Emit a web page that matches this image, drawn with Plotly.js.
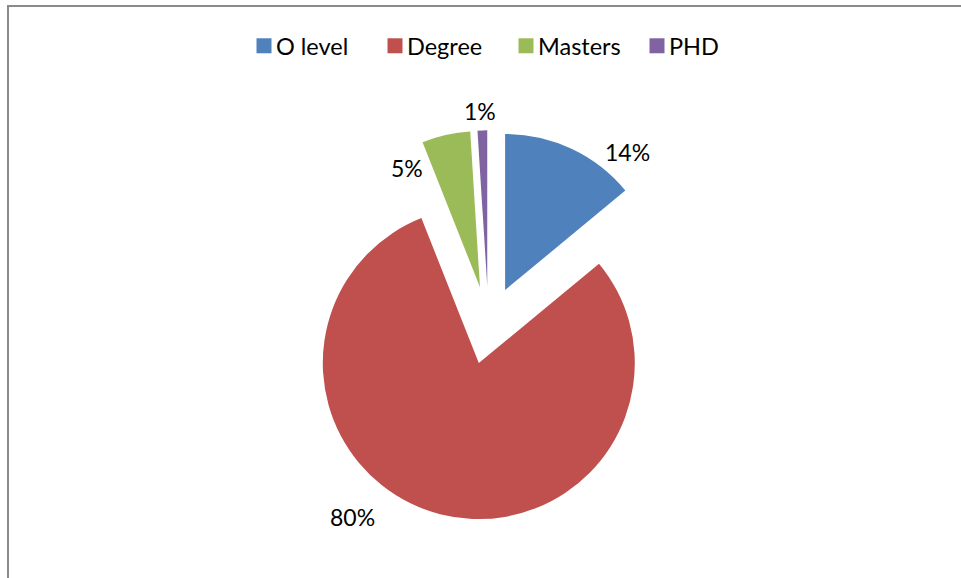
<!DOCTYPE html>
<html>
<head>
<meta charset="utf-8">
<script src="https://cdn.plot.ly/plotly-3.0.1.min.js"></script>
<style>
  html, body { margin: 0; padding: 0; background: #ffffff; }
  #chart { width: 961px; height: 578px; }
</style>
</head>
<body>
<div id="chart"></div>
<script>
// ---- data ----
const categories = ["O level", "Degree", "Masters", "PHD"];
const values = [14, 80, 5, 1];
const colors = ["#4F81BD", "#C0504D", "#9BBB59", "#8064A2"];

// ---- label placement style (angle nudge in degrees, distance from pie centre in px) ----
const labelAngleNudge = [13.6, 21.1, -14.8, -0.5];
const labelDistance = [222, 235, 177, 214];

const W = 961, H = 578;
const cx = 488.5, cy = 325.3, half = 195;
const FONT = "Lato, 'Liberation Sans', sans-serif";

const total = values.reduce((a, b) => a + b, 0);

const trace = {
  type: "pie",
  labels: categories,
  values: values,
  sort: false,
  direction: "clockwise",
  rotation: 0,
  pull: values.map(() => 0.25),
  marker: { colors: colors, line: { width: 0 } },
  textinfo: "none",
  hoverinfo: "label+percent",
  domain: {
    x: [(cx - half) / W, (cx + half) / W],
    y: [1 - (cy + half) / H, 1 - (cy - half) / H]
  },
  automargin: false
};

// percentage labels computed from the data (slice bisector + nudge)
const annotations = [];
let cum = 0;
values.forEach((v, i) => {
  const mid = (cum + v / 2) / total * 360;
  cum += v;
  const a = (mid + labelAngleNudge[i]) * Math.PI / 180;
  const px = cx + labelDistance[i] * Math.sin(a);
  const py = cy - labelDistance[i] * Math.cos(a);
  annotations.push({
    xref: "paper", yref: "paper",
    x: px / W, y: 1 - py / H,
    xanchor: "center", yanchor: "middle",
    text: Math.round(v / total * 100) + "%",
    showarrow: false,
    font: { family: FONT, size: 23, color: "#000000" }
  });
});

const layout = {
  width: W,
  height: H,
  margin: { l: 0, r: 0, t: 0, b: 0, pad: 0 },
  paper_bgcolor: "#ffffff",
  font: { family: FONT, size: 23, color: "#000000" },
  showlegend: true,
  legend: {
    orientation: "h",
    x: 236 / W,
    xanchor: "left",
    y: 1 - 46 / H,
    yanchor: "middle",
    font: { family: FONT, size: 23.5, color: "#000000" },
    itemwidth: 30,
    entrywidth: 86,
    traceorder: "normal"
  },
  annotations: annotations,
  shapes: [
    {
      type: "path",
      xref: "paper", yref: "paper",
      path: "M " + (8 / W) + "," + (-0.05) + " L " + (8 / W) + "," + (1 - 6 / H) + " L 1.05," + (1 - 6 / H),
      line: { color: "#8a8a8a", width: 2 }
    }
  ]
};

Plotly.newPlot("chart", [trace], layout, { displayModeBar: false, staticPlot: true }).then(gd => {
  // enlarge legend swatches and bring them closer to their text, as in the reference
  gd.querySelectorAll("path.legendpie").forEach(p => {
    p.setAttribute("transform", "translate(28,0) scale(1.25)");
  });
});
</script>
</body>
</html>
